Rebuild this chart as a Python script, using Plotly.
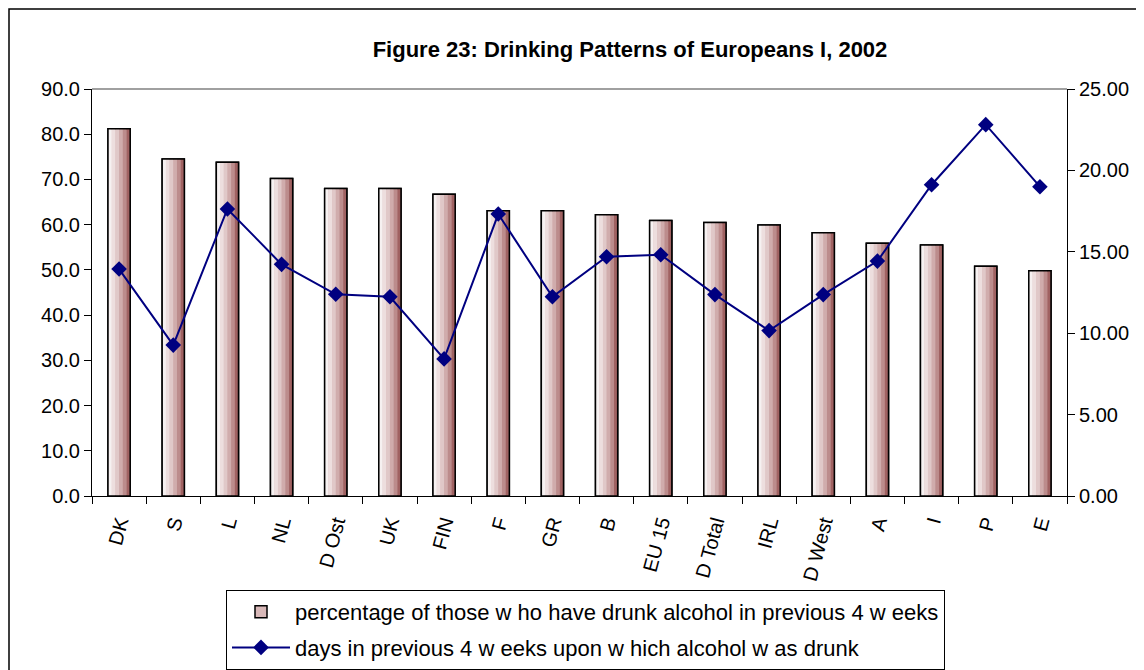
import plotly.graph_objects as go

categories = ["DK", "S", "L", "NL", "D Ost", "UK", "FIN", "F", "GR", "B",
              "EU 15", "D Total", "IRL", "D West", "A", "I", "P", "E"]
pct_drunk = [81.2, 74.5, 73.8, 70.2, 68.0, 68.0, 66.7, 63.1, 63.1, 62.2,
             60.9, 60.5, 59.9, 58.2, 55.9, 55.5, 50.8, 49.8]
days_drunk = [13.94, 9.27, 17.63, 14.23, 12.39, 12.24, 8.42, 17.32, 12.24, 14.70,
              14.82, 12.37, 10.16, 12.37, 14.43, 19.12, 22.81, 19.00]

bar_name = "percentage of those w ho have drunk alcohol in previous 4 w eeks"
line_name = "days in previous 4 w eeks upon w hich alcohol w as drunk"

FONT = "Liberation Sans, Arial, sans-serif"
BAR_W = 0.41
strip_colors = ["#f6f1f1", "#eddede", "#e0c8c8", "#d0acac", "#bc8c8c", "#a06262"]

# plot-area geometry in figure pixels (page body adds an 8px offset)
L, T, R, B = 84, 81, 1059, 488
W, H = 1144, 670
PW, PH = R - L, B - T

fig = go.Figure()

fig.add_trace(go.Bar(
    x=categories, y=pct_drunk, name=bar_name, width=BAR_W,
    marker=dict(color="#d8b8b8", line=dict(color="black", width=1.5)),
    legendgroup="a", showlegend=True, hoverinfo="skip"))

n = len(strip_colors)
sw = BAR_W / n
for i, c in enumerate(strip_colors):
    fig.add_trace(go.Bar(
        x=categories, y=pct_drunk, width=sw + 0.004, offset=-BAR_W / 2 + i * sw,
        marker=dict(color=c, line=dict(width=0)),
        showlegend=False, hoverinfo="skip"))

fig.add_trace(go.Bar(
    x=categories, y=pct_drunk, width=BAR_W,
    marker=dict(color="rgba(0,0,0,0)", line=dict(color="black", width=1.5)),
    showlegend=False))

fig.add_trace(go.Scatter(
    x=categories, y=days_drunk, name=line_name, yaxis="y2",
    mode="lines+markers", legendgroup="b",
    line=dict(color="#000080", width=2),
    marker=dict(symbol="diamond", size=12, color="#000080")))

fig.update_layout(
    width=W, height=H,
    barmode="overlay",
    plot_bgcolor="white", paper_bgcolor="white",
    margin=dict(l=L, r=W - R, t=T, b=H - B, autoexpand=False),
    font=dict(family=FONT, size=20, color="black"),
    title=dict(text="<b>Figure 23: Drinking Patterns of Europeans I, 2002</b>",
               x=622 / W, xref="container", y=1 - 41 / H, yref="container",
               xanchor="center", yanchor="middle",
               font=dict(family=FONT, size=22, color="black")),
    xaxis=dict(type="category", showline=True, linecolor="black", linewidth=1,
               ticks="outside", ticklen=7, tickcolor="black", tickson="boundaries",
               tickangle=-75, showgrid=False, range=[-0.5, 17.5],
               tickfont=dict(size=20), ticklabelstandoff=6),
    yaxis=dict(range=[0, 90], dtick=10, tickformat=".1f", showline=True,
               linecolor="black", linewidth=1, ticks="outside", ticklen=7,
               tickcolor="black", showgrid=False, zeroline=False,
               tickfont=dict(size=20)),
    yaxis2=dict(range=[0, 25], dtick=5, tickformat=".2f", overlaying="y",
                side="right", showline=True, linecolor="black", linewidth=1,
                ticks="outside", ticklen=7, tickcolor="black", showgrid=False,
                zeroline=False, tickfont=dict(size=20)),
    legend=dict(x=(218 - L) / PW, xanchor="left", y=(B - 582) / PH, yanchor="top",
                bordercolor="black", borderwidth=1, bgcolor="white",
                font=dict(size=22), tracegroupgap=4, itemwidth=58),
    showlegend=True,
)

fig.add_shape(type="line", xref="paper", yref="paper", x0=0, x1=1, y0=1, y1=1,
              line=dict(color="#808080", width=1.5))
fig.add_shape(type="rect", xref="paper", yref="paper",
              x0=(1 - L) / PW, x1=(W + 200 - L) / PW,
              y0=(B - H - 40) / PH, y1=(B - 1) / PH,
              line=dict(color="black", width=1.5), layer="below")

fig.write_html("out.html")
